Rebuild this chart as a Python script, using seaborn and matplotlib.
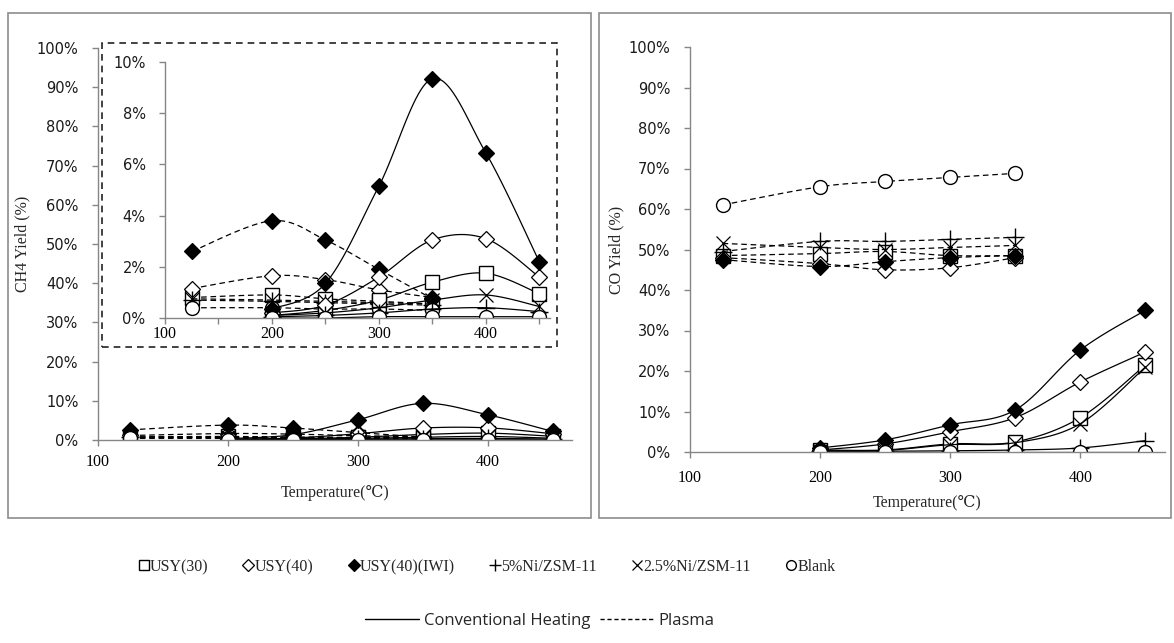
import numpy as np
import pandas as pd
import matplotlib
matplotlib.use("Agg")
import matplotlib.pyplot as plt
from matplotlib.lines import Line2D
from matplotlib.patches import Rectangle
import seaborn as sns

sns.set_theme(style="white")
plt.rcParams['font.family'] = ['DejaVu Sans']

# ---------------- data ----------------
temps_conv = [200, 250, 300, 350, 400, 450]
temps_plasma = [125, 200, 250, 300, 350]

# CH4 yield (%) - conventional heating
usy30_ch4_conv = [0.1, 0.3, 0.7, 1.4, 1.75, 0.95]
usy40_ch4_conv = [0.2, 0.5, 1.6, 3.05, 3.1, 1.6]
iwi_ch4_conv = [0.35, 1.35, 5.15, 9.35, 6.45, 2.2]
ni5_ch4_conv = [0.05, 0.1, 0.2, 0.35, 0.4, 0.25]
ni25_ch4_conv = [0.1, 0.2, 0.4, 0.7, 0.9, 0.45]
blank_ch4_conv = [0.0, 0.0, 0.05, 0.05, 0.05, 0.05]
# CH4 yield (%) - plasma
usy30_ch4_pl = [0.8, 0.9, 0.75, 0.65, 0.55]
usy40_ch4_pl = [1.15, 1.65, 1.5, 1.1, 0.8]
iwi_ch4_pl = [2.6, 3.8, 3.05, 1.9, 0.75]
ni5_ch4_pl = [0.7, 0.65, 0.6, 0.55, 0.5]
ni25_ch4_pl = [0.75, 0.7, 0.65, 0.6, 0.55]
blank_ch4_pl = [0.4, 0.4, 0.35, 0.35, 0.3]

# CO yield (%) - conventional heating
usy30_co_conv = [0.5, 0.5, 2.0, 2.5, 8.5, 21.5]
usy40_co_conv = [0.5, 2.0, 5.0, 8.5, 17.3, 24.7]
iwi_co_conv = [1.0, 3.0, 6.7, 10.4, 25.2, 35.0]
ni5_co_conv = [0.2, 0.2, 0.3, 0.5, 1.0, 2.8]
ni25_co_conv = [0.3, 0.4, 1.8, 2.3, 7.0, 21.0]
blank_co_conv = [0.0, 0.0, 0.0, 0.0, 0.0, 0.0]
# CO yield (%) - plasma
usy30_co_pl = [48.5, 49.0, 49.5, 48.5, 48.5]
usy40_co_pl = [48.0, 46.5, 45.0, 45.5, 48.0]
iwi_co_pl = [47.5, 45.8, 47.0, 48.0, 48.5]
ni5_co_pl = [49.5, 52.0, 52.0, 52.5, 53.0]
ni25_co_pl = [51.5, 50.5, 50.0, 50.5, 51.0]
blank_co_pl = [61.0, 65.5, 66.8, 67.8, 68.8]

ytick_main = [0, 10, 20, 30, 40, 50, 60, 70, 80, 90, 100]
ytick_inset = [0, 2, 4, 6, 8, 10]
xtick_labels = [100, 200, 300, 400]
leg_labels = ["USY(30)", "USY(40)", "USY(40)(IWI)", "5%Ni/ZSM-11", "2.5%Ni/ZSM-11", "Blank"]
mode_labels = ["Conventional Heating", "Plasma"]

ch4_conv = [usy30_ch4_conv, usy40_ch4_conv, iwi_ch4_conv, ni5_ch4_conv, ni25_ch4_conv, blank_ch4_conv]
ch4_pl = [usy30_ch4_pl, usy40_ch4_pl, iwi_ch4_pl, ni5_ch4_pl, ni25_ch4_pl, blank_ch4_pl]
co_conv = [usy30_co_conv, usy40_co_conv, iwi_co_conv, ni5_co_conv, ni25_co_conv, blank_co_conv]
co_pl = [usy30_co_pl, usy40_co_pl, iwi_co_pl, ni5_co_pl, ni25_co_pl, blank_co_pl]

# ---------------- styles ----------------
mstyle = [
    dict(marker="s", mfc="white", mec="black", ms=10, mew=1.0),
    dict(marker="D", mfc="white", mec="black", ms=8.5, mew=0.9),
    dict(marker="D", mfc="black", mec="black", ms=8.5, mew=0.9),
    dict(marker="+", mfc="none", mec="black", ms=13, mew=1.0),
    dict(marker="x", mfc="none", mec="black", ms=10, mew=0.9),
    dict(marker="o", mfc="white", mec="black", ms=10, mew=1.0),
]
GRAY = "#868686"
SERIF = ["Liberation Serif", "DejaVu Serif", "DejaVu Sans"]


def smooth(x, y, n=24):
    """Excel-like smoothed line (Bezier through the points)."""
    p = np.column_stack([x, y]).astype(float)
    xs, ys = [], []
    for i in range(len(p) - 1):
        p0 = p[i - 1] if i > 0 else p[i]
        p1, p2 = p[i], p[i + 1]
        p3 = p[i + 2] if i + 2 < len(p) else p[i + 1]
        c1 = p1 + (p2 - p0) / 6.0
        c2 = p2 - (p3 - p1) / 6.0
        t = np.linspace(0, 1, n)[:, None]
        b = ((1 - t) ** 3) * p1 + 3 * ((1 - t) ** 2) * t * c1 + 3 * (1 - t) * t ** 2 * c2 + t ** 3 * p2
        if i > 0:
            b = b[1:]
        xs.append(b[:, 0]); ys.append(b[:, 1])
    return np.concatenate(xs), np.concatenate(ys)


def draw_series(ax, x, y, style, dashed):
    sx, sy = smooth(x, y)
    df_line = pd.DataFrame({"T": sx, "Y": sy})
    sns.lineplot(data=df_line, x="T", y="Y", ax=ax, sort=False, estimator=None, legend=False,
                 color="black", lw=0.9)
    if dashed:
        ax.lines[-1].set_dashes((4.5, 3))
    df_pts = pd.DataFrame({"T": x, "Y": y})
    sns.lineplot(data=df_pts, x="T", y="Y", ax=ax, sort=False, estimator=None, legend=False,
                 linestyle="", color="black", **style)


def style_axes(ax, yticks, xlim, ylim, xpad):
    ax.set_xlim(*xlim)
    ax.set_ylim(*ylim)
    ax.set_facecolor("none")
    for s in ["top", "right"]:
        ax.spines[s].set_visible(False)
    for s in ["left", "bottom"]:
        ax.spines[s].set_color(GRAY)
        ax.spines[s].set_linewidth(1.0)
    ax.set_yticks(yticks)
    ax.set_yticklabels([f"{v}%" for v in yticks], fontsize=10.5, family="DejaVu Sans", color="#1a1a1a")
    ax.set_xticks(xtick_labels)
    ax.set_xticklabels([str(v) for v in xtick_labels], fontsize=11.5, family=SERIF, color="black")
    ax.tick_params(axis="both", which="major", direction="out", length=4, width=1.0, color=GRAY,
                   bottom=True, left=True)
    ax.tick_params(axis="y", pad=10)
    ax.tick_params(axis="x", pad=xpad)
    ax.set_xlabel("")
    ax.set_ylabel("")


W, H = 1174, 643
fig = plt.figure(figsize=(W / 100, H / 100), dpi=100)


def fr(x0, y_top, x1, y_bot):
    return [x0 / W, 1 - y_bot / H, (x1 - x0) / W, (y_bot - y_top) / H]

# panel borders
fig.patches.append(Rectangle((8 / W, 1 - 518 / H), (591 - 8) / W, (518 - 13) / H, transform=fig.transFigure,
                             fill=False, edgecolor="#8c8c8c", lw=1.2))
fig.patches.append(Rectangle((599 / W, 1 - 518 / H), (1171 - 599) / W, (518 - 13) / H, transform=fig.transFigure,
                             fill=False, edgecolor="#8c8c8c", lw=1.2))

# ---- left main axes (CH4) ----
axL = fig.add_axes(fr(98, 48, 572, 440))
for i in range(6):
    draw_series(axL, temps_plasma, ch4_pl[i], mstyle[i], True)
for i in range(6):
    draw_series(axL, temps_conv, ch4_conv[i], mstyle[i], False)
style_axes(axL, ytick_main, (100, 465), (0, 100), 6)
axL.set_xlabel("Temperature(\u2103)", family=SERIF, fontsize=11.5)
axL.set_ylabel("CH4 Yield (%)", family=SERIF, fontsize=11.5)
axL.yaxis.set_label_coords(-0.143, 0.5)
axL.xaxis.set_label_coords(0.5, -0.115)

# dashed inset box
fig.patches.append(Rectangle((102 / W, 1 - 347 / H), (557 - 102) / W, (347 - 43) / H, transform=fig.transFigure,
                             fill=True, facecolor="white", edgecolor="#222222", lw=1.2, ls=(0, (4, 3)), zorder=2))

# ---- inset axes ----
axI = fig.add_axes(fr(165, 62, 550, 318))
axI.set_zorder(3)
for i in range(6):
    draw_series(axI, temps_plasma, ch4_pl[i], mstyle[i], True)
for i in range(6):
    draw_series(axI, temps_conv, ch4_conv[i], mstyle[i], False)
style_axes(axI, ytick_inset, (100, 460), (0, 10), 2)
axI.set_xticks([150, 250, 350, 450], minor=True)
axI.tick_params(axis="x", which="minor", direction="out", length=4, width=1.0, color=GRAY, bottom=True)

# ---- right axes (CO) ----
axR = fig.add_axes(fr(690, 47, 1165, 452))
for i in range(6):
    draw_series(axR, temps_plasma, co_pl[i], mstyle[i], True)
for i in range(6):
    draw_series(axR, temps_conv, co_conv[i], mstyle[i], False)
style_axes(axR, ytick_main, (100, 465), (0, 100), 9)
axR.set_xlabel("Temperature(\u2103)", family=SERIF, fontsize=11.5)
axR.set_ylabel("CO Yield (%)", family=SERIF, fontsize=11.5)
axR.yaxis.set_label_coords(-0.139, 0.5)
axR.xaxis.set_label_coords(0.5, -0.106)

# ---- legends ----
leg_markers = [
    dict(marker="s", mfc="white", mec="black", ms=7, mew=1.0),
    dict(marker="D", mfc="white", mec="black", ms=6, mew=0.9),
    dict(marker="D", mfc="black", mec="black", ms=6, mew=0.9),
    dict(marker="+", mfc="none", mec="black", ms=9, mew=1.0),
    dict(marker="x", mfc="none", mec="black", ms=7, mew=0.9),
    dict(marker="o", mfc="white", mec="black", ms=7, mew=1.0),
]
h1 = [Line2D([], [], linestyle="", color="black", **m) for m in leg_markers]
fig.legend(h1, leg_labels, loc="center", bbox_to_anchor=(487 / W, 1 - 567 / H), ncol=6, frameon=False,
           handlelength=0.6, handletextpad=0.1, columnspacing=2.2, prop={"family": "Liberation Serif", "size": 11.5})

h2 = [Line2D([], [], color="black", lw=1.0), Line2D([], [], color="black", lw=1.0, dashes=(3, 2))]
fig.legend(h2, mode_labels, loc="center", bbox_to_anchor=(540 / W, 1 - 621 / H), ncol=2,
           frameon=False, handlelength=3.2, handletextpad=0.3, columnspacing=0.6,
           prop={"family": "Open Sans", "size": 12})

fig.savefig("out.png", dpi=100)
